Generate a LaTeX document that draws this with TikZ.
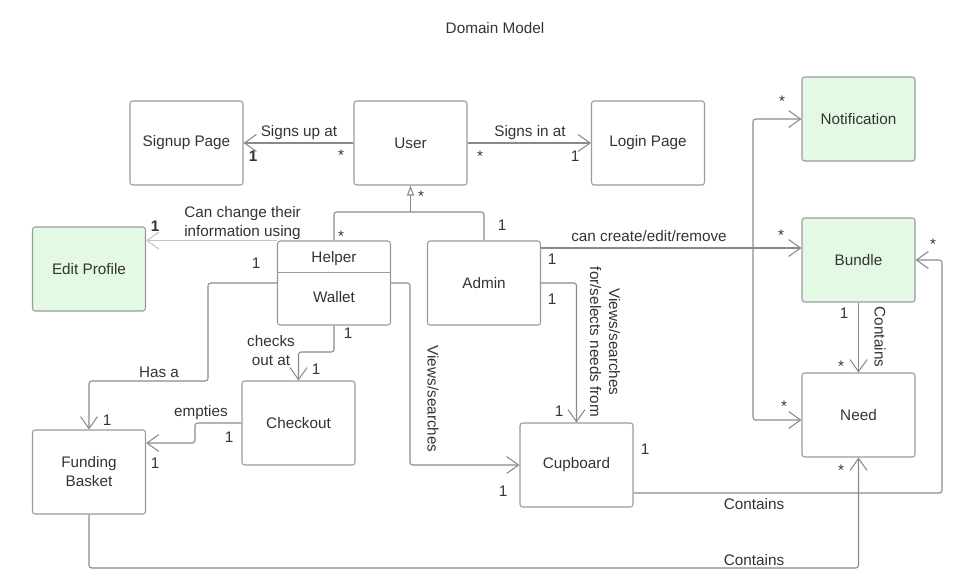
\documentclass[tikz,border=0pt]{standalone}
\usepackage{fontspec}
\setmainfont{Liberation Sans}
\usetikzlibrary{arrows.meta}
\definecolor{linegray}{HTML}{8A8A8A}
\definecolor{lightline}{HTML}{C4C4C4}
\definecolor{boxgray}{HTML}{9A9A9A}
\definecolor{txt}{HTML}{333333}
\definecolor{gfill}{HTML}{E3F9E3}
\newcommand\dfont{\fontsize{8.7}{10.8}\selectfont}
\tikzset{
  box/.style={draw=boxgray, line width=0.6pt, rounded corners=1.5pt, minimum width=2.26cm, minimum height=1.68cm, inner sep=0pt, text=txt, font=\dfont, align=center},
  gbox/.style={box, fill=gfill},
  conn/.style={draw=linegray, line width=0.6pt, rounded corners=1.5pt},
  assoc/.style={conn, -{Straight Barb[length=2.4mm,width=3.4mm]}},
  gen/.style={conn, -{Triangle[open,length=2mm,width=1.4mm,fill=white]}},
  lab/.style={text=txt, font=\dfont, inner sep=0pt},
  divline/.style={draw=boxgray, line width=0.6pt}
}
\begin{document}
\begin{tikzpicture}[x=0.02cm,y=-0.02cm]
\useasboundingbox (0,0) rectangle (959,585);
\node[lab] (title) at (495,28) {Domain Model};
% boxes
\node[box] (signup) at (186.5,143) {Signup Page};
\node[box] (user) at (410.5,143) {User};
\node[box] (login) at (648,143) {Login Page};
\node[gbox] (notif) at (858.5,119) {Notification};
\node[gbox] (editp) at (89,269) {Edit Profile};
\node[box] (helper) at (334,283) {};
\node[lab] (helperlbl) at (334,259) {Helper};
\node[lab] (walletlbl) at (334,297) {Wallet};
\draw[divline] ([yshift=-0.64cm]helper.north west) -- ([yshift=-0.64cm]helper.north east);
\node[box] (admin) at (484,283) {Admin};
\node[gbox] (bundle) at (858.5,260) {Bundle};
\node[box] (checkout) at (298.5,423) {Checkout};
\node[box] (funding) at (89,472) {Funding\\Basket};
\node[box] (cupboard) at (576.5,465) {Cupboard};
\node[box] (need) at (858.5,415) {Need};
% connectors
\draw[assoc] (user.west) -- (signup.east);
\draw[assoc] (user.east) -- (login.west);
\coordinate (genj) at (410.5,212);
\draw[conn] (helper.north) |- (genj);
\draw[conn] (admin.north) |- (genj);
\draw[gen] (genj) -- (user.south);
\draw[assoc, draw=lightline] (helper.north west) -- (editp.east |- helper.north west);
\draw[assoc] (helper.west) -| (208,381) -| (funding.north);
\draw[assoc] (helper.south) |- (checkout.north |- 0,352) -- (checkout.north);
\draw[assoc] (checkout.west) -- (195,423) |- (funding.east |- 0,443);
\draw[assoc] (helper.east) -- (410,283) |- (cupboard.west);
\draw[assoc] (admin.east) -| (cupboard.north);
\draw[assoc] (admin.east |- 0,248) -- (bundle.west |- 0,248);
\coordinate (split) at (753,248);
\draw[assoc] (split) |- (notif.west);
\draw[assoc] (split) |- (need.west |- 0,420);
\draw[assoc] (bundle.south) -- (need.north);
\draw[assoc] (cupboard.east |- 0,493) -- (942,493) |- (bundle.east);
\draw[assoc] (funding.south) |- (need.south |- 0,568) -- (need.south);
% labels
\node[lab] (l1) at (299,133) {Signs up at};
\node[lab] (l2) at (530,133) {Signs in at};
\node[lab, anchor=west, align=left] (l3) at (184,223) {Can change their\\information using};
\node[lab] (l4) at (159,372) {Has a};
\node[lab, align=center] (l5) at (271,351) {checks\\out at};
\node[lab] (l6) at (201,413) {empties};
\node[lab, rotate=-90] (l7) at (433,399) {Views/searches};
\node[lab, rotate=-90, align=center] (l8) at (605,342) {Views/searches\\for/selects needs from};
\node[lab] (l9) at (649,236) {can create/edit/remove};
\node[lab, rotate=-90] (l10) at (880,337) {Contains};
\node[lab] (l11) at (754,504) {Contains};
\node[lab] (l12) at (754,560) {Contains};
% multiplicities
\node[lab] (m1) at (341,155) {*};
\node[lab, font=\dfont\bfseries] (m2) at (253,156) {1};
\node[lab] (m3) at (480,156) {*};
\node[lab] (m4) at (575,156) {1};
\node[lab] (m5) at (421,196) {*};
\node[lab] (m6) at (341,236) {*};
\node[lab] (m7) at (502,225) {1};
\node[lab, font=\dfont\bfseries] (m8) at (155,226) {1};
\node[lab] (m9) at (256,263) {1};
\node[lab] (m10) at (107,420) {1};
\node[lab] (m11) at (348,333) {1};
\node[lab] (m12) at (316,369) {1};
\node[lab] (m13) at (229,437) {1};
\node[lab] (m14) at (155,463) {1};
\node[lab] (m15) at (503,491) {1};
\node[lab] (m16) at (552,259) {1};
\node[lab] (m17) at (552,299) {1};
\node[lab] (m18) at (559,411) {1};
\node[lab] (m19) at (781,235) {*};
\node[lab] (m20) at (782,101) {*};
\node[lab] (m21) at (784,406) {*};
\node[lab] (m22) at (844,313) {1};
\node[lab] (m23) at (841,366) {*};
\node[lab] (m24) at (933,244) {*};
\node[lab] (m25) at (645,449) {1};
\node[lab] (m26) at (841,470) {*};
\end{tikzpicture}
\end{document}
